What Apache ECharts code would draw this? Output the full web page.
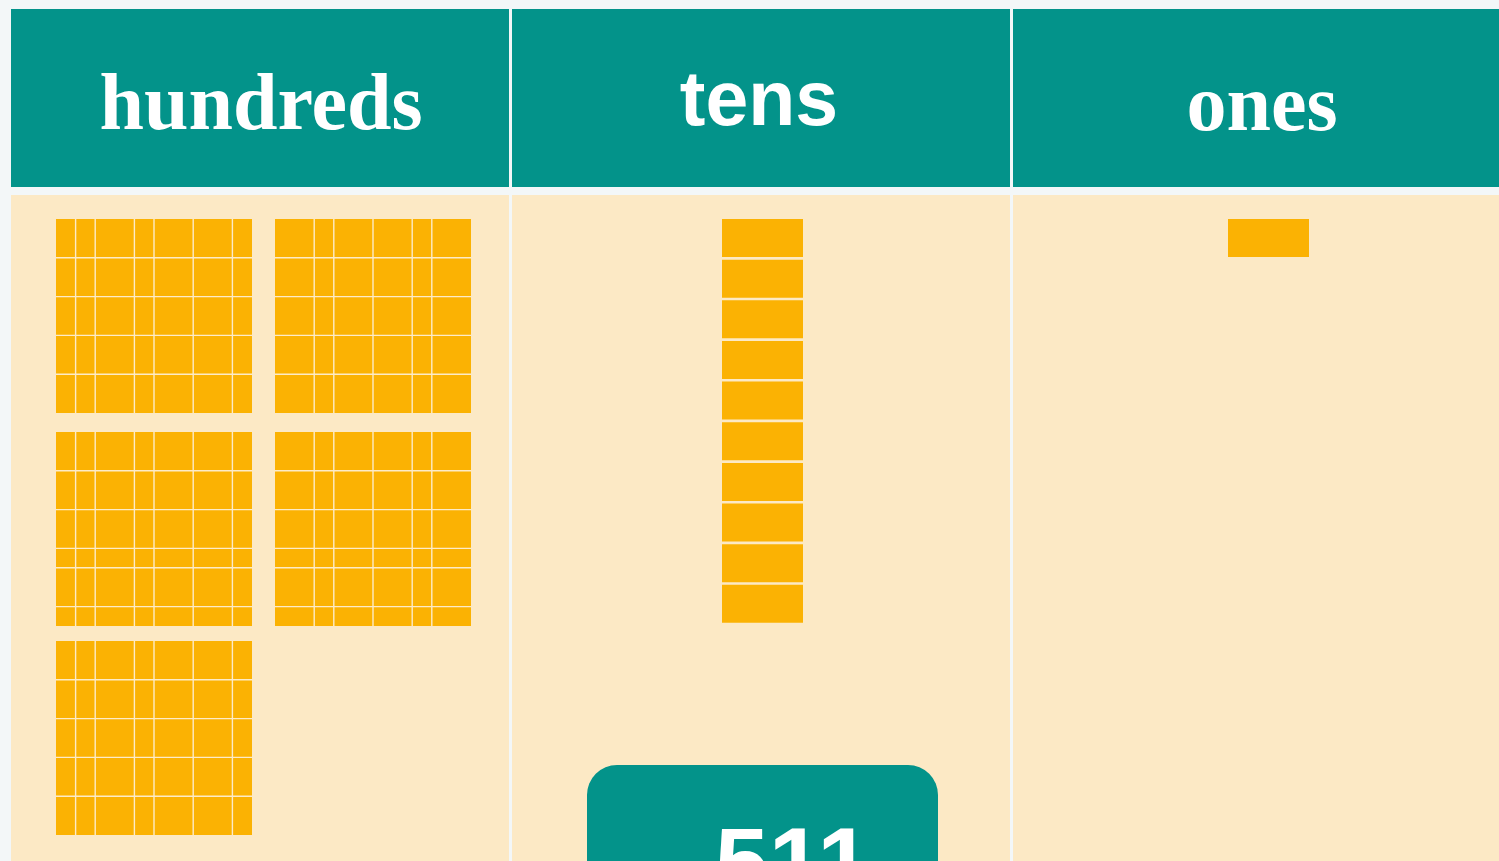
<!DOCTYPE html>
<html>
<head>
<meta charset="utf-8">
<script src="https://cdn.jsdelivr.net/npm/echarts@6/dist/echarts.min.js"></script>
<style>
html,body{margin:0;padding:0;background:#F3F7F8;}
#chart{width:1499px;height:861px;}
</style>
</head>
<body>
<div id="chart"></div>
<script>
// ---- data ----
const places = ['hundreds', 'tens', 'ones'];
const digits = [5, 1, 1];            // 5 hundreds, 1 ten, 1 one
const numberLabel = '511';
const unitsPerRod = 10;
// grid lines that remain visible on each hundred flat (indices of 10x10 cells)
const flatColLines = [[1,2,4,5,7,9],[2,3,5,7,8],[1,2,4,5,7,9],[2,3,5,7,8],[1,2,4,5,7,9]];
const flatRowLines = [[2,4,6,8],[2,4,6,8],[2,4,6,7,9],[2,4,6,7,9],[2,4,6,8]];

// ---- styles / layout ----
const TEAL = '#03938A', CREAM = '#FCE9C5', GOLD = '#FBB203', LINE = '#FDEBC8';
const colLeft = [11, 512, 1013], colRight = [509, 1010, 1499];
const headTop = 9, headBottom = 187, bodyTop = 195, bodyBottom = 861;
const headFamily = ['"Liberation Serif", "Times New Roman", serif',
                    '"Liberation Sans", Arial, sans-serif',
                    '"Liberation Serif", "Times New Roman", serif'];
const headSize = [80, 77, 80];
const headTextX = [261, 759, 1262], headTextY = [108, 104, 109];
const flatColX = [56, 275], flatRowY = [219, 432, 641], flatW = 196, flatH = 194;
const rod = {x: 722, y0: 219, w: 81, pitch: 40.65, h: 38};
const unit = {x: 1228, y0: 219, w: 81, h: 38};

const chart = echarts.init(document.getElementById('chart'), null, {renderer: 'canvas'});

function rectShape(api, x1, y1, x2, y2) {
  const p1 = api.coord([x1, y1]), p2 = api.coord([x2, y2]);
  return {x: Math.min(p1[0], p2[0]), y: Math.min(p1[1], p2[1]),
          width: Math.abs(p2[0] - p1[0]), height: Math.abs(p2[1] - p1[1])};
}

const hundredsData = [];
for (let i = 0; i < digits[0]; i++) hundredsData.push([i % 2, Math.floor(i / 2), i]);
const tensData = [];
for (let t = 0; t < digits[1]; t++) for (let k = 0; k < unitsPerRod; k++) tensData.push([t, k]);
const onesData = [];
for (let k = 0; k < digits[2]; k++) onesData.push([k]);

function headerSeries(i) {
  return {
    type: 'custom', name: 'header-' + places[i], silent: true,
    data: [[i]],
    renderItem: function (params, api) {
      return {type: 'group', children: [
        {type: 'rect', shape: rectShape(api, colLeft[i], headTop, colRight[i], headBottom), style: {fill: TEAL}},
        {type: 'rect', shape: rectShape(api, colLeft[i], bodyTop, colRight[i], bodyBottom), style: {fill: CREAM}},
        {type: 'text', x: api.coord([headTextX[i], 0])[0], y: api.coord([0, headTextY[i]])[1],
         style: {text: places[i], fontFamily: headFamily[i], fontSize: headSize[i], fontWeight: 'bold',
                 fill: '#FFFFFF', align: 'center', verticalAlign: 'middle'}}
      ]};
    }
  };
}

const option = {
  backgroundColor: '#F3F7F8',
  animation: false,
  grid: {left: 0, right: 0, top: 0, bottom: 0},
  xAxis: {type: 'value', min: 0, max: 1499, show: false},
  yAxis: {type: 'value', min: 0, max: 861, inverse: true, show: false},
  series: [
    headerSeries(0), headerSeries(1), headerSeries(2),
    {
      type: 'custom', name: 'hundreds', silent: true,
      data: hundredsData,
      renderItem: function (params, api) {
        const c = api.value(0), r = api.value(1), idx = api.value(2);
        const x1 = flatColX[c], y1 = flatRowY[r];
        const children = [{type: 'rect', shape: rectShape(api, x1, y1, x1 + flatW, y1 + flatH), style: {fill: GOLD}}];
        flatColLines[idx].forEach(function (k) {
          const a = api.coord([x1 + k * flatW / 10, y1]), b = api.coord([x1 + k * flatW / 10, y1 + flatH]);
          children.push({type: 'line', shape: {x1: a[0], y1: a[1], x2: b[0], y2: b[1]}, style: {stroke: LINE, lineWidth: 1.4}});
        });
        flatRowLines[idx].forEach(function (k) {
          const a = api.coord([x1, y1 + k * flatH / 10]), b = api.coord([x1 + flatW, y1 + k * flatH / 10]);
          children.push({type: 'line', shape: {x1: a[0], y1: a[1], x2: b[0], y2: b[1]}, style: {stroke: LINE, lineWidth: 1.4}});
        });
        return {type: 'group', children: children};
      }
    },
    {
      type: 'custom', name: 'tens', silent: true,
      data: tensData,
      renderItem: function (params, api) {
        const t = api.value(0), k = api.value(1);
        const x1 = rod.x + t * 100, y1 = rod.y0 + k * rod.pitch;
        return {type: 'rect', shape: rectShape(api, x1, y1, x1 + rod.w, y1 + rod.h), style: {fill: GOLD}};
      }
    },
    {
      type: 'custom', name: 'ones', silent: true,
      data: onesData,
      renderItem: function (params, api) {
        const k = api.value(0);
        const y1 = unit.y0 + k * 45;
        return {type: 'rect', shape: rectShape(api, unit.x, y1, unit.x + unit.w, y1 + unit.h), style: {fill: GOLD}};
      }
    },
    {
      type: 'custom', name: 'number', silent: true,
      data: [[0]],
      renderItem: function (params, api) {
        const s = rectShape(api, 587, 765, 938, 900);
        s.r = 30;
        return {type: 'group', children: [
          {type: 'rect', shape: s, style: {fill: TEAL}},
          {type: 'text', x: api.coord([793, 0])[0], y: api.coord([0, 868])[1],
           style: {text: numberLabel, fontFamily: '"Liberation Sans", Arial, sans-serif', fontSize: 97, fontWeight: 'bold',
                   fill: '#FFFFFF', align: 'center', verticalAlign: 'middle'}}
        ]};
      }
    }
  ]
};
chart.setOption(option);
</script>
</body>
</html>
